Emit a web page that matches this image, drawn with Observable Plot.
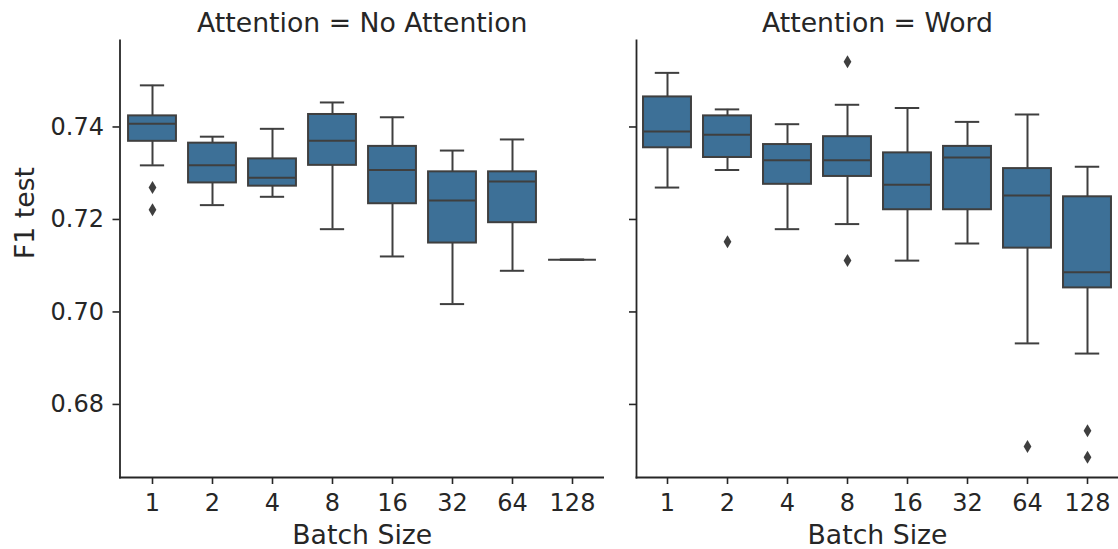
<!DOCTYPE html>
<html><head><meta charset="utf-8">
<script src="https://cdn.jsdelivr.net/npm/d3@7"></script>
<script src="https://cdn.jsdelivr.net/npm/@observablehq/plot@0.6"></script>
<style>
html,body{margin:0;padding:0;background:#fff;overflow:hidden}
#row{display:flex;flex-direction:row;width:1118px;height:549px}
#row svg{font-family:"DejaVu Sans",sans-serif;display:block}
</style></head><body><div id="row"></div>
<script>
// ---- data ----
const batchSizes = ["1", "2", "4", "8", "16", "32", "64", "128"];
const facetTitles = ["Attention = No Attention", "Attention = Word"];
const yTicks = [0.68, 0.70, 0.72, 0.74];
const yDomain = [0.6642, 0.7587];

// Attention = No Attention
const noAttnLow  = [0.7317, 0.7231, 0.7249, 0.7179, 0.7120, 0.7017, 0.7089, 0.7113];
const noAttnQ1   = [0.7369, 0.7279, 0.7272, 0.7317, 0.7234, 0.7149, 0.7193, 0.7113];
const noAttnMed  = [0.7407, 0.7317, 0.7290, 0.7370, 0.7307, 0.7241, 0.7282, 0.7113];
const noAttnQ3   = [0.7424, 0.7365, 0.7331, 0.7427, 0.7358, 0.7303, 0.7303, 0.7113];
const noAttnHigh = [0.7490, 0.7379, 0.7396, 0.7453, 0.7421, 0.7349, 0.7373, 0.7113];
const noAttnFlierBatch = ["1", "1"];
const noAttnFlierValue = [0.7269, 0.7221];

// Attention = Word
const wordLow  = [0.7269, 0.7307, 0.7179, 0.7190, 0.7111, 0.7148, 0.6932, 0.6910];
const wordQ1   = [0.7355, 0.7334, 0.7276, 0.7293, 0.7221, 0.7221, 0.7138, 0.7052];
const wordMed  = [0.7390, 0.7383, 0.7328, 0.7328, 0.7275, 0.7334, 0.7252, 0.7086];
const wordQ3   = [0.7465, 0.7424, 0.7362, 0.7379, 0.7344, 0.7358, 0.7310, 0.7249];
const wordHigh = [0.7517, 0.7438, 0.7406, 0.7448, 0.7441, 0.7411, 0.7427, 0.7314];
const wordFlierBatch = ["2", "8", "8", "64", "128", "128"];
const wordFlierValue = [0.7152, 0.7541, 0.7111, 0.6709, 0.6743, 0.6686];

// ---- drawing ----
const boxBlue = "#3d7097";
const lineGray = "#3f3f3f";
const ink = "#262626";
const thinDiamond = {
  draw(context, size) {
    const r = Math.sqrt(size / Math.PI);
    context.moveTo(0, -r);
    context.lineTo(0.6 * r, 0);
    context.lineTo(0, r);
    context.lineTo(-0.6 * r, 0);
    context.closePath();
  }
};

function panel({title, low, q1, med, q3, high, flierBatch, flierValue, width, marginLeft, showLabels}) {
  const rows = batchSizes.map((b, i) => ({batch: b, low: low[i], q1: q1[i], med: med[i], q3: q3[i], high: high[i]}));
  const fliers = flierBatch.map((b, i) => ({batch: b, value: flierValue[i]}));
  const band = (width - marginLeft) / batchSizes.length;
  const boxInset = band * 0.1;
  const capInset = band * 0.295;
  const lineOpts = {stroke: lineGray, strokeWidth: 2};
  return Plot.plot({
    width, height: 549, marginLeft, marginRight: 0, marginTop: 40, marginBottom: 72,
    style: {fontFamily: "'DejaVu Sans', sans-serif", fontSize: "24px", color: ink, background: "#fff", overflow: "visible"},
    x: {type: "band", domain: batchSizes, padding: 0, axis: null},
    y: {domain: yDomain, axis: null},
    marks: [
      Plot.axisY({ticks: yTicks, tickSize: 7, tickPadding: 9, tickFormat: showLabels ? d3.format(".2f") : () => "", label: null, fontSize: 24, strokeWidth: 1.6}),
      Plot.axisX({tickSize: 7, tickPadding: 9, label: null, fontSize: 24, strokeWidth: 1.6}),
      Plot.ruleX(rows, {x: "batch", y1: "low", y2: "high", ...lineOpts}),
      Plot.tickY(rows, {x: "batch", y: "low", insetLeft: capInset, insetRight: capInset, ...lineOpts}),
      Plot.tickY(rows, {x: "batch", y: "high", insetLeft: capInset, insetRight: capInset, ...lineOpts}),
      Plot.barY(rows, {x: "batch", y1: "q1", y2: "q3", fill: boxBlue, insetLeft: boxInset, insetRight: boxInset, ...lineOpts}),
      Plot.tickY(rows, {x: "batch", y: "med", insetLeft: boxInset, insetRight: boxInset, ...lineOpts}),
      Plot.dot(fliers, {x: "batch", y: "value", symbol: thinDiamond, r: 6.5, fill: lineGray, stroke: "none"}),
      Plot.frame({anchor: "left", stroke: ink, strokeWidth: 1.8}),
      Plot.frame({anchor: "bottom", stroke: ink, strokeWidth: 1.8}),
      Plot.text([title], {text: d => d, frameAnchor: "top", lineAnchor: "middle", dy: -16.8, fontSize: 26.7, fill: ink}),
      Plot.text(["Batch Size"], {text: d => d, frameAnchor: "bottom", lineAnchor: "middle", dy: 57.8, fontSize: 26.7, fill: ink}),
      ...(showLabels ? [Plot.text(["F1 test"], {text: d => d, frameAnchor: "left", lineAnchor: "middle", rotate: -90, dx: -95, fontSize: 26.7, fill: ink})] : [])
    ]
  });
}

const row = document.getElementById("row");
row.append(panel({
  title: facetTitles[0], low: noAttnLow, q1: noAttnQ1, med: noAttnMed, q3: noAttnQ3, high: noAttnHigh,
  flierBatch: noAttnFlierBatch, flierValue: noAttnFlierValue, width: 604, marginLeft: 119.5, showLabels: true
}));
row.append(panel({
  title: facetTitles[1], low: wordLow, q1: wordQ1, med: wordMed, q3: wordQ3, high: wordHigh,
  flierBatch: wordFlierBatch, flierValue: wordFlierValue, width: 514, marginLeft: 32, showLabels: false
}));
</script></body></html>
